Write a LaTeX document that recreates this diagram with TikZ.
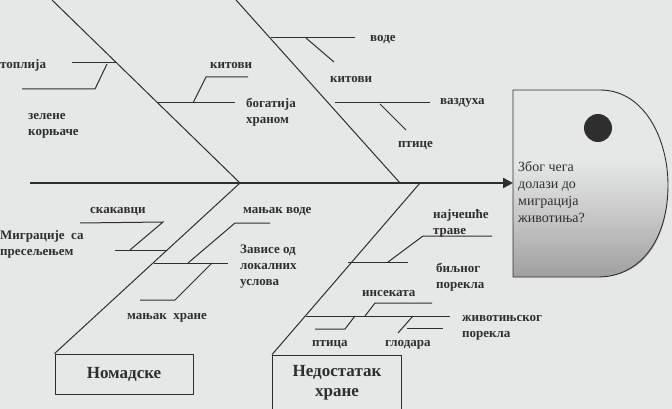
\documentclass[tikz,border=0pt]{standalone}
\usepackage{fontspec}
\setmainfont{Liberation Serif}
\usetikzlibrary{arrows.meta}
\definecolor{bg}{HTML}{E6E8E8}
\definecolor{ink}{HTML}{2E2E2E}
\begin{document}
\begin{tikzpicture}[x=1pt,y=-1pt,
  bone/.style={draw=ink,line width=1pt},
  lbl/.style={font=\bfseries\fontsize{13}{16}\selectfont,text=ink,inner sep=0pt,anchor=west,align=left},
  boxt/.style={draw=ink,line width=0.9pt,font=\bfseries\fontsize{17}{20}\selectfont,text=ink,align=center}]
\fill[bg] (0,0) rectangle (672,409);
\useasboundingbox (0,0) rectangle (672,409);
% head
\shade[top color=bg,bottom color=gray!75,middle color=gray!45] (513,160) -- (513,277) -- (598,277) .. controls (650,277) and (668,230) .. (668,190) -- (668,160) -- cycle;
\draw[ink,line width=0.9pt] (513,90) -- (600,90) .. controls (645,90) and (668,140) .. (668,185) .. controls (668,240) and (640,277) .. (598,277) -- (513,277) -- cycle;
\fill[ink] (598,128) circle (14);
\node[lbl,font=\fontsize{14}{17}\selectfont,anchor=north west] (head) at (518,161) {Због чега\\долази до\\миграција\\животиња?};
% spine
\coordinate (s0) at (30,183);
\coordinate (tip) at (513,183);
\draw[ink,line width=2.6pt,-{Triangle[length=10pt,width=10pt]}] (s0) -- (tip);
% upper bones
\coordinate (b1t) at (52,0); \coordinate (b1b) at (240,183);
\coordinate (b2t) at (236,0); \coordinate (b2b) at (400,183);
\draw[bone] (b1t) -- (b1b); \draw[bone] (b2t) -- (b2b);
\draw[bone] (72,63) -- (117,63); \draw[bone] (107,64) -- (95,89) -- (22,89);
\draw[bone] (158,103) -- (235,103); \draw[bone] (193,103) -- (206,77) -- (248,77);
\draw[bone] (271,38) -- (355,38); \draw[bone] (306,38) -- (334,62);
\draw[bone] (335,103) -- (430,103); \draw[bone] (380,104) -- (406,130);
\node[lbl] (t1) at (0,65) {топлија};
\node[lbl,align=left] (t2) at (28,126) {зелене\\корњаче};
\node[lbl] (t3) at (210,66) {китови};
\node[lbl] (t4) at (246,112) {богатија\\храном};
\node[lbl] (t5) at (370,40) {воде};
\node[lbl] (t6) at (330,80) {китови};
\node[lbl] (t7) at (440,103) {ваздуха};
\node[lbl] (t8) at (398,146) {птице};
% lower bones
\node[boxt,minimum width=138,minimum height=40] (nom) at (124,374) {Номадске};
\node[boxt,minimum width=129,minimum height=56,inner sep=1pt] (ned) at (337,383) {Недостатак\\хране};
\draw[bone] (b1b) -- (nom.north west);
\draw[bone] (420,183) -- (ned.north west);
\draw[bone] (80,223) -- (163,222) -- (130,250); \draw[bone] (115,250) -- (167,250);
\draw[bone] (154,263) -- (228,263); \draw[bone] (188,263) -- (235,223) -- (270,223);
\draw[bone] (212,263) -- (175,300) -- (140,300);
\draw[bone] (348,262) -- (408,262); \draw[bone] (388,262) -- (423,236) -- (492,236);
\draw[bone] (306,316) -- (450,316); \draw[bone] (365,316) -- (375,303) -- (432,303);
\draw[bone] (355,316) -- (345,329) -- (315,329);
\draw[bone] (413,316) -- (398,333); \draw[bone] (407,328) -- (443,328);
\node[lbl] (u1) at (90,212) {скакавци};
\node[lbl] (u2) at (0,244) {Миграције \ са\\пресељењем};
\node[lbl] (u3) at (243,212) {мањак воде};
\node[lbl] (u4) at (240,267) {Зависе од\\локалних\\услова};
\node[lbl] (u5) at (127,318) {мањак \ хране};
\node[lbl] (u6) at (433,223) {најчешће\\траве};
\node[lbl] (u7) at (436,277) {биљног\\порекла};
\node[lbl] (u8) at (362,293) {инсеката};
\node[lbl] (u9) at (462,328) {животињског\\порекла};
\node[lbl] (u10) at (312,345) {птица};
\node[lbl] (u11) at (385,345) {глодара};
\end{tikzpicture}
\end{document}
